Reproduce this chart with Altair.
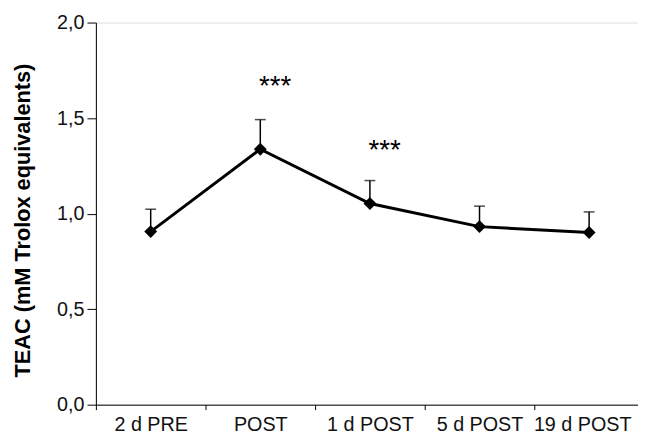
import altair as alt
import pandas as pd

categories = ["2 d PRE", "POST", "1 d POST", "5 d POST", "19 d POST"]
means = [0.906, 1.337, 1.053, 0.932, 0.901]
upper = [1.023, 1.492, 1.173, 1.039, 1.009]

sig_categories = ["POST", "1 d POST"]
sig_labels = ["***", "***"]
sig_y = [1.686, 1.354]

y_ticks = [0.0, 0.5, 1.0, 1.5, 2.0]

df = pd.DataFrame({"cat": categories, "mean": means, "upper": upper})
sig = pd.DataFrame({"cat": sig_categories, "label": sig_labels, "y": sig_y})

FONT = "Liberation Sans"

x_enc = alt.X(
    "cat:N",
    sort=categories,
    scale=alt.Scale(domain=categories, paddingInner=0, paddingOuter=0, range=[0, 555]),
    axis=alt.Axis(
        title=None,
        labelAngle=0,
        tickBand="extent",
        tickSize=5,
        tickColor="black",
        domainColor="black",
        labelColor="#111111",
        labelFont=FONT,
        labelFontSize=20,
        labelPadding=5,
        labelOffset={"condition": {"test": "datum.value == '19 d POST'", "value": -7}, "value": 0},
        grid=False,
        labelOverlap=False,
        labelBound=False,
    ),
)

y_scale = alt.Scale(domain=[0, 2], nice=False, zero=True)
y_enc = alt.Y(
    "mean:Q",
    scale=y_scale,
    axis=alt.Axis(
        title="TEAC (mM Trolox equivalents)",
        values=y_ticks,
        labelExpr="replace(format(datum.value, '.1f'), '.', ',')",
        tickSize=9,
        tickColor="black",
        domainColor="black",
        labelColor="#111111",
        labelFont=FONT,
        labelFontSize=20,
        labelPadding=3,
        titleFont=FONT,
        titleFontSize=22,
        titleFontWeight="bold",
        titleColor="black",
        titleAngle=-90,
        titleX=-74,
        titleY=200,
        titleAlign="center",
        titleBaseline="middle",
        grid=False,
    ),
)

base = alt.Chart(df)

err_rule = base.mark_rule(color="black", strokeWidth=1.5).encode(
    x=x_enc, y=alt.Y("mean:Q", scale=y_scale), y2="upper:Q"
)
err_cap = base.mark_tick(color="black", thickness=1.5, size=11, orient="horizontal").encode(
    x=x_enc, y=alt.Y("upper:Q", scale=y_scale)
)
line = base.mark_line(color="black", strokeWidth=3).encode(x=x_enc, y=y_enc)
points = base.mark_point(shape="diamond", filled=True, color="black", size=170, opacity=1).encode(
    x=x_enc, y=alt.Y("mean:Q", scale=y_scale)
)
stars = alt.Chart(sig).mark_text(
    font=FONT, fontSize=28, color="black", dx=15, dy=5, baseline="middle", align="center"
).encode(x=x_enc, y=alt.Y("y:Q", scale=y_scale), text="label:N")

chart = (
    alt.layer(err_rule, err_cap, line, points, stars)
    .properties(
        width=549,
        height=387,
        autosize=alt.AutoSizeParams(type="none"),
        padding={"left": 89, "top": 12, "right": 0, "bottom": 31},
    )
    .configure_view(stroke=None)
    .configure(background="white")
)

chart.save("out.html", embed_options={"renderer": "svg", "actions": False})
